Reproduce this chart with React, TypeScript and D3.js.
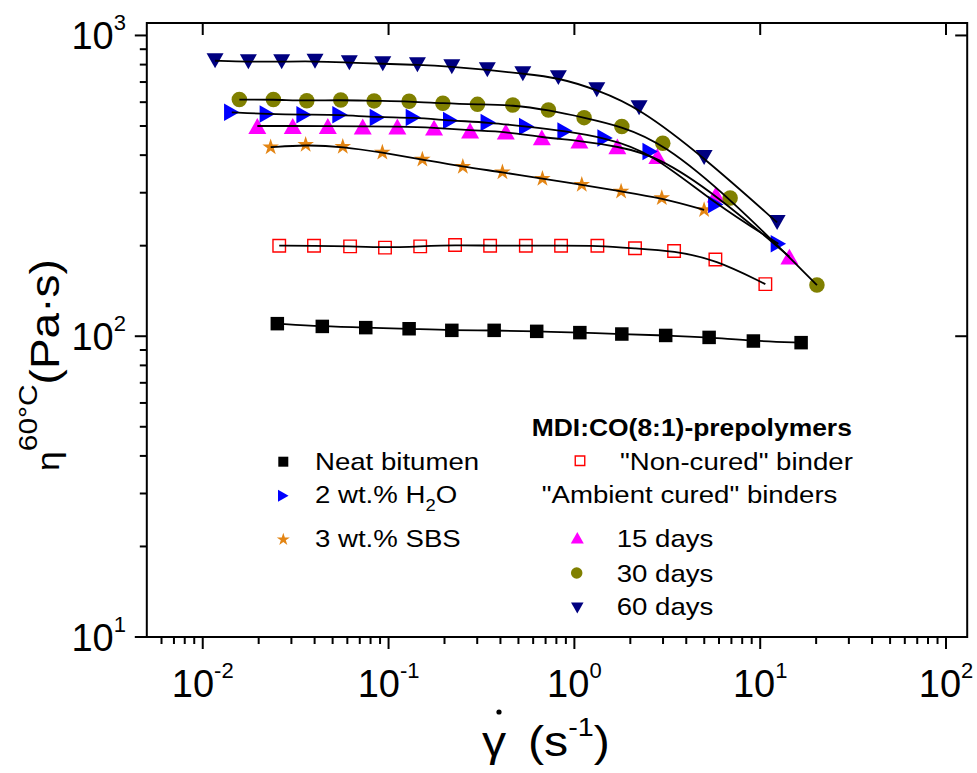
import React from "react";
import * as d3 from "d3";

// ---------- data ----------
const neatShear = [0.0252, 0.044, 0.0754, 0.129, 0.219, 0.37, 0.627, 1.07, 1.8, 3.1, 5.31, 9.19, 16.6];
const neatEta = [110.1, 107.8, 106.8, 105.9, 104.6, 104.6, 103.8, 102.8, 101.7, 100.6, 99.1, 96.4, 95.2];

const h2oShear = [0.01433, 0.02227, 0.0351, 0.0548, 0.0871, 0.136, 0.216, 0.344, 0.554, 0.891, 1.463, 2.556, 5.77, 12.53];
const h2oEta = [555, 548, 545, 545, 534, 534, 521, 514, 498, 481, 456, 411, 274, 203];

const sbsShear = [0.0232, 0.0358, 0.0567, 0.0926, 0.152, 0.251, 0.41, 0.673, 1.096, 1.784, 2.954, 4.99];
const sbsEta = [425, 433, 427, 408, 387, 366, 351, 334, 319, 303, 288, 263];

const nonCuredShear = [0.0258, 0.0397, 0.0621, 0.0957, 0.148, 0.228, 0.352, 0.548, 0.848, 1.33, 2.12, 3.44, 5.74, 10.66];
const nonCuredEta = [200, 200, 199, 197, 199, 201, 200, 200, 200, 200, 196, 192, 180, 149];

const d15Shear = [0.01967, 0.0305, 0.0471, 0.0726, 0.1115, 0.1757, 0.2746, 0.4274, 0.668, 1.064, 1.703, 2.797, 5.77, 14.36];
const d15Eta = [500, 500, 500, 498, 498, 494, 483, 479, 458, 447, 428, 397, 296, 184];

const d30Shear = [0.01574, 0.024, 0.0363, 0.0553, 0.0836, 0.129, 0.196, 0.301, 0.466, 0.725, 1.128, 1.8, 2.99, 6.89, 20.2];
const d30Eta = [612, 612, 607, 610, 606, 604, 595, 590, 587, 565, 533, 498, 438, 288, 148];

const d60Shear = [0.01165, 0.0176, 0.0266, 0.0402, 0.0615, 0.0931, 0.143, 0.219, 0.34, 0.528, 0.82, 1.32, 2.23, 4.99, 12.33];
const d60Eta = [824, 818, 818, 821, 812, 805, 799, 787, 769, 746, 724, 660, 575, 393, 239];

const xTickValues = [0.01, 0.1, 1, 10, 100];
const xTickExps = ["-2", "-1", "0", "1", "2"];
const yTickValues = [10, 100, 1000];
const yTickExps = ["1", "2", "3"];

const leftLegendLabels = ["Neat bitumen", "2 wt.% H", "3 wt.% SBS"];
const rightLegendLabels = ["15 days", "30 days", "60 days"];

// ---------- layout ----------
const W = 977;
const H = 773;
const L = 146.8, R = 967.2, T = 23, B = 637;
const FONT = "'Liberation Sans', Arial, sans-serif";
const SX = 1.15;

const x = d3.scaleLog().domain([0.005, 130]).range([L, R]);
const y = d3.scaleLog().domain([10, 1100]).range([B, T]);

type Kind = "square" | "osquare" | "circle" | "up" | "down" | "right" | "star";

function markerPath(kind: Kind, s: number): string {
  const w = s / 2; // half base
  const h = (s * 0.88) / 2; // half height
  if (kind === "up") return `M0,${-h}L${w},${h}L${-w},${h}Z`;
  if (kind === "down") return `M0,${h}L${w},${-h}L${-w},${-h}Z`;
  if (kind === "right") return `M${h},0L${-h},${w}L${-h},${-w}Z`;
  if (kind === "star") return d3.symbol(d3.symbolStar, (s * s) / 3.2)() as string;
  if (kind === "circle") return d3.symbol(d3.symbolCircle, Math.PI * w * w)() as string;
  return `M${-w},${-w}H${w}V${w}H${-w}Z`;
}

function Marker({ kind, cx, cy, s, color }: { kind: Kind; cx: number; cy: number; s: number; color: string }) {
  const d = markerPath(kind, s);
  if (kind === "osquare") {
    return <path d={d} transform={`translate(${cx},${cy})`} fill="none" stroke={color} strokeWidth={1.4} />;
  }
  return <path d={d} transform={`translate(${cx},${cy})`} fill={color} stroke="none" />;
}

type Series = { xs: number[]; ys: number[]; kind: Kind; color: string; size: number };
const series: Series[] = [
  { xs: neatShear, ys: neatEta, kind: "square", color: "#000000", size: 13.5 },
  { xs: nonCuredShear, ys: nonCuredEta, kind: "osquare", color: "#FF0000", size: 12.5 },
  { xs: sbsShear, ys: sbsEta, kind: "star", color: "#E38514", size: 16.5 },
  { xs: d15Shear, ys: d15Eta, kind: "up", color: "#FF00FF", size: 18 },
  { xs: h2oShear, ys: h2oEta, kind: "right", color: "#0000FF", size: 17.5 },
  { xs: d30Shear, ys: d30Eta, kind: "circle", color: "#808000", size: 15.5 },
  { xs: d60Shear, ys: d60Eta, kind: "down", color: "#000080", size: 17 },
];

const lineGen = d3
  .line<[number, number]>()
  .x((d) => x(d[0]))
  .y((d) => y(d[1]))
  .curve(d3.curveBasis);

function SText({ tx, ty, size, weight, rot, children }: any) {
  return (
    <g transform={`translate(${tx},${ty})${rot ? " rotate(-90)" : ""} scale(${SX},1)`}>
      <text fontFamily={FONT} fontSize={size} fontWeight={weight || "normal"} fill="#000">
        {children}
      </text>
    </g>
  );
}

export default function App() {
  const xMinor: number[] = [];
  for (let dec = 0.001; dec <= 100; dec *= 10) {
    for (let k = 2; k <= 9; k++) {
      const v = +(k * dec).toPrecision(6);
      if (v > 0.0051 && v < 130) xMinor.push(v);
    }
  }
  const yMinor: number[] = [];
  for (const dec of [10, 100]) {
    for (let k = 2; k <= 9; k++) yMinor.push(k * dec);
  }

  return (
    <svg width={W} height={H} style={{ position: "absolute", left: 0, top: 0, background: "#fff" }}>
      <rect x={0} y={0} width={W} height={H} fill="#fff" />

      {/* markers */}
      {series.map((s, i) => (
        <g key={"m" + i}>
          {s.xs.map((v, j) => (
            <Marker key={j} kind={s.kind} cx={x(v)} cy={y(s.ys[j])} s={s.size} color={s.color} />
          ))}
        </g>
      ))}

      {/* fit lines */}
      {series.map((s, i) => (
        <path
          key={"l" + i}
          d={lineGen(s.xs.map((v, j) => [v, s.ys[j]] as [number, number])) as string}
          fill="none"
          stroke="#000"
          strokeWidth={1.8}
        />
      ))}

      {/* frame */}
      <rect x={L} y={T} width={R - L} height={B - T} fill="none" stroke="#000" strokeWidth={2} />

      {/* bottom / top ticks */}
      {xTickValues.map((v) => (
        <g key={"xt" + v}>
          <line x1={x(v)} x2={x(v)} y1={B} y2={B + 12} stroke="#000" strokeWidth={2} />
          <line x1={x(v)} x2={x(v)} y1={T} y2={T + 12} stroke="#000" strokeWidth={2} />
        </g>
      ))}
      {xMinor.map((v) => (
        <line key={"xm" + v} x1={x(v)} x2={x(v)} y1={B} y2={B + 7} stroke="#000" strokeWidth={2} />
      ))}
      {/* left / right ticks */}
      {yTickValues.map((v) => (
        <g key={"yt" + v}>
          <line x1={L - 12} x2={L} y1={y(v)} y2={y(v)} stroke="#000" strokeWidth={2} />
          <line x1={R - 12} x2={R} y1={y(v)} y2={y(v)} stroke="#000" strokeWidth={2} />
        </g>
      ))}
      {yMinor.map((v) => (
        <line key={"ym" + v} x1={L - 7} x2={L} y1={y(v)} y2={y(v)} stroke="#000" strokeWidth={2} />
      ))}

      {/* tick labels */}
      {xTickValues.map((v, i) => (
        <text key={"xl" + v} x={x(v)} y={696.5} textAnchor="middle" fontFamily={FONT} fontSize={38}>
          10
          <tspan dy={-19} fontSize={22}>
            {xTickExps[i]}
          </tspan>
        </text>
      ))}
      {yTickValues.map((v, i) => (
        <text key={"yl" + v} x={126} y={y(v) + 14} textAnchor="end" fontFamily={FONT} fontSize={38}>
          10
          <tspan dy={-19} fontSize={22}>
            {yTickExps[i]}
          </tspan>
        </text>
      ))}

      {/* axis titles */}
      <SText tx={482} ty={756} size={42}>
        γ<tspan dx={19}>(s</tspan>
        <tspan dy={-20} fontSize={25}>-1</tspan>
        <tspan dy={20}>)</tspan>
      </SText>
      <circle cx={499} cy={712} r={2.6} fill="#000" />
      <SText tx={59} ty={471} size={31} rot>
        η<tspan dy={-22} fontSize={26}>60°C</tspan>
        <tspan dy={22} fontSize={40}>(Pa·s)</tspan>
      </SText>

      {/* left legend */}
      <Marker kind="square" cx={283.3} cy={461.7} s={10} color="#000000" />
      <SText tx={315} ty={470} size={24}>{leftLegendLabels[0]}</SText>
      <Marker kind="right" cx={283.3} cy={495.7} s={12} color="#0000FF" />
      <SText tx={315} ty={503.3} size={24}>
        {leftLegendLabels[1]}
        <tspan dy={8} fontSize={16}>2</tspan>
        <tspan dy={-8}>O</tspan>
      </SText>
      <Marker kind="star" cx={283.3} cy={539.5} s={13} color="#E38514" />
      <SText tx={315} ty={546.7} size={24}>{leftLegendLabels[2]}</SText>

      {/* right legend */}
      <SText tx={531.7} ty={435.7} size={23} weight="bold">MDI:CO(8:1)-prepolymers</SText>
      <Marker kind="osquare" cx={580} cy={460.7} s={9.5} color="#FF0000" />
      <SText tx={620} ty={470} size={24}>"Non-cured" binder</SText>
      <SText tx={541.7} ty={503.3} size={24}>"Ambient cured" binders</SText>
      <Marker kind="up" cx={577.3} cy={537.7} s={13} color="#FF00FF" />
      <SText tx={616.7} ty={547.3} size={24}>{rightLegendLabels[0]}</SText>
      <Marker kind="circle" cx={576.7} cy={573} s={11.5} color="#808000" />
      <SText tx={616.7} ty={581.7} size={24}>{rightLegendLabels[1]}</SText>
      <Marker kind="down" cx={577.3} cy={608} s={12.5} color="#000080" />
      <SText tx={616.7} ty={615} size={24}>{rightLegendLabels[2]}</SText>
    </svg>
  );
}
